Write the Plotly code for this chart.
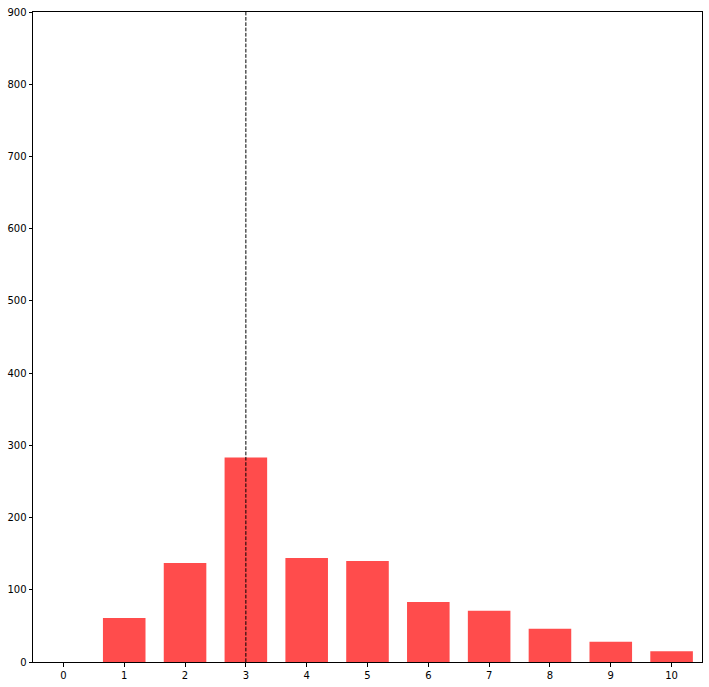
import plotly.graph_objects as go

# data
categories = [0, 1, 2, 3, 4, 5, 6, 7, 8, 9, 10]
counts = [0, 61, 137, 283, 144, 140, 83, 71, 46, 28, 15]
marker_x = 3
y_ticks = [0, 100, 200, 300, 400, 500, 600, 700, 800, 900]

bar_col = 'rgba(255,0,0,0.7)'

fig = go.Figure()

fig.add_trace(
    go.Bar(x=categories, y=counts, width=0.7, marker=dict(color=bar_col, line=dict(width=0)))
)

# dashed line at the marker value
fig.add_shape(
    type="line",
    x0=marker_x, x1=marker_x, y0=0, y1=1,
    xref="x", yref="paper",
    line=dict(color="black", width=1, dash="3.7px,1.6px"),
)

fig.update_layout(
    width=709, height=687,
    margin=dict(l=33, r=6, t=10, b=23),
    plot_bgcolor='white',
    paper_bgcolor='white',
    showlegend=False,
    font=dict(family="DejaVu Sans", size=10, color="black"),
)

fig.update_xaxes(
    range=[-0.5, 10.5],
    tickmode='array', tickvals=categories,
    ticks='outside', ticklen=3.5, tickcolor='black',
    showline=True, mirror=True, linecolor='black', linewidth=1,
    showgrid=False, zeroline=False,
)

fig.update_yaxes(
    range=[0, 900],
    tickmode='array', tickvals=y_ticks,
    ticks='outside', ticklen=3.5, tickcolor='black',
    showline=True, mirror=True, linecolor='black', linewidth=1,
    showgrid=False, zeroline=False,
)

fig.write_html("out.html", config={'displayModeBar': False},
               post_script="document.body.style.margin='0';")
